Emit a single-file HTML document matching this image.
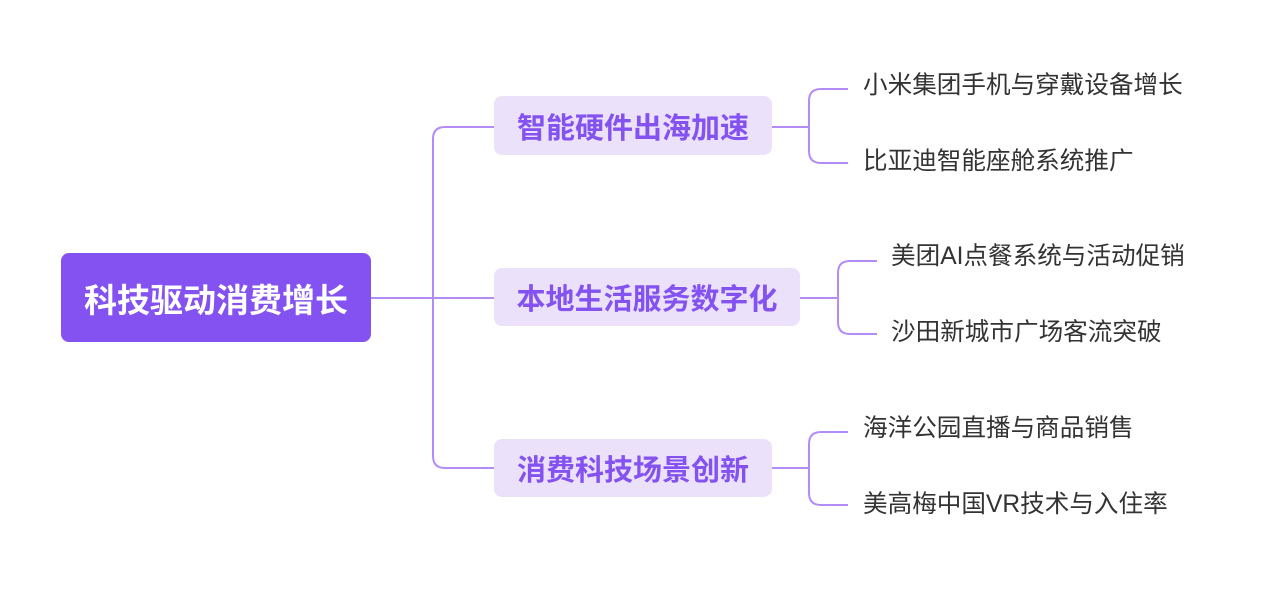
<!DOCTYPE html>
<html><head><meta charset="utf-8"><style>
body{margin:0;width:1266px;height:596px;background:#fff;position:relative;overflow:hidden;font-family:"Liberation Sans","Noto Sans CJK SC",sans-serif}
.n{position:absolute;display:flex;align-items:center;justify-content:center;white-space:nowrap}
.root{left:61px;top:253px;width:310px;height:89px;background:#8352f0;border-radius:8px;color:#fff;font-size:33px;font-weight:bold}
.b{background:#ebe1fb;border-radius:8px;color:#8352f0;font-size:29px;font-weight:bold}
.c{position:absolute;font-size:24.6px;color:#333;white-space:nowrap;line-height:30px}
</style></head><body>
<svg width="1266" height="596" style="position:absolute;left:0;top:0" fill="none" stroke="#b48cf7" stroke-width="2">
<path d="M371 298H494"/>
<path d="M494 127H445Q433 127 433 139V456Q433 468 445 468H494"/>
<path d="M772 127H809M848 89H821Q809 89 809 101V151Q809 163 821 163H848"/>
<path d="M800 298H838M877 261H850Q838 261 838 273V322Q838 334 850 334H877"/>
<path d="M772 468H809M848 432H821Q809 432 809 444V493Q809 505 821 505H848"/>
</svg>
<div class="n root">科技驱动消费增长</div>
<div class="n b" style="left:494px;top:96px;width:278px;height:59px">智能硬件出海加速</div>
<div class="n b" style="left:494px;top:268px;width:306px;height:58px">本地生活服务数字化</div>
<div class="n b" style="left:494px;top:439px;width:278px;height:58px">消费科技场景创新</div>
<div class="c" style="left:863px;top:71px">小米集团手机与穿戴设备增长</div>
<div class="c" style="left:863px;top:147px">比亚迪智能座舱系统推广</div>
<div class="c" style="left:891px;top:242px">美团AI点餐系统与活动促销</div>
<div class="c" style="left:891px;top:318px">沙田新城市广场客流突破</div>
<div class="c" style="left:863px;top:414px">海洋公园直播与商品销售</div>
<div class="c" style="left:863px;top:490px">美高梅中国VR技术与入住率</div>
</body></html>
